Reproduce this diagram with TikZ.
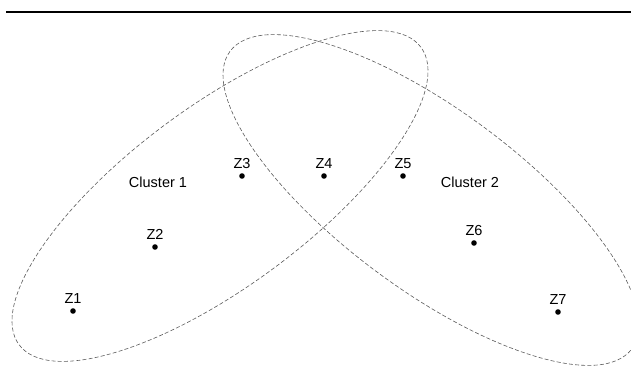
\documentclass[tikz,border=0pt]{standalone}
\usepackage{fontspec}
\setmainfont{Liberation Sans}
\usepackage{tikz}
\usetikzlibrary{positioning}
\definecolor{rim}{HTML}{5A5A5A}
\tikzset{
  pt/.style      = {circle, fill=black, inner sep=0pt, minimum size=5.6pt},
  ptlbl/.style   = {font=\fontsize{14.5}{16}\selectfont, inner sep=0pt},
  cluster/.style = {draw=rim, line width=0.6pt, dash pattern=on 4pt off 2.2pt},
  clname/.style  = {font=\fontsize{14.5}{16}\selectfont, inner sep=0pt},
}

\begin{document}
\begin{tikzpicture}[x=1pt, y=1pt]
  \useasboundingbox (0,0) rectangle (631,378);
  \coordinate (rulel) at (6,366);
  \coordinate (ruler) at (631,366);
  \draw[line width=2.2pt] (rulel) -- (ruler);

  % the two clusters
  \draw[cluster, rotate around={36.5:(220,182)}] (220,182) ellipse [x radius=250, y radius=90];
  \draw[cluster, rotate around={-36.5:(431,178)}] (431,178) ellipse [x radius=250, y radius=90];
  \node[clname] (c1) at (158,196) {Cluster 1};
  \node[clname] (c2) at (470,196) {Cluster 2};

  \foreach \n/\x/\y in {1/73/67, 2/155/131, 3/242/202, 4/324/202, 5/403/202, 6/474/135, 7/558/66} {
    \node[pt, label={[ptlbl, label distance=4.5pt]above:Z\n}] (z\n) at (\x,\y) {};
  }
\end{tikzpicture}
\end{document}
